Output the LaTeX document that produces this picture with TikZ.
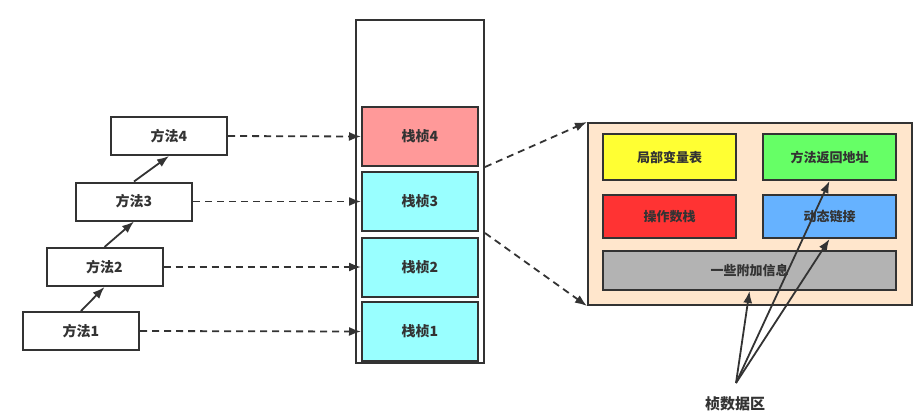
\documentclass[tikz,border=0pt]{standalone}
\usepackage{fontspec}
\newfontfamily\cjk{Noto Sans CJK SC}
\usetikzlibrary{arrows.meta,calc}
\definecolor{ink}{HTML}{333333}
\definecolor{framered}{HTML}{FF9999}
\definecolor{framecyan}{HTML}{99FFFF}
\definecolor{panelbg}{HTML}{FFE6CC}
\definecolor{lvyellow}{HTML}{FFFF33}
\definecolor{ragreen}{HTML}{66FF66}
\definecolor{osred}{HTML}{FF3333}
\definecolor{dlblue}{HTML}{66B2FF}
\definecolor{exgray}{HTML}{B3B3B3}
\tikzset{
  box/.style={draw=ink,line width=2pt,text=ink,font=\cjk\bfseries\fontsize{14}{14}\selectfont,inner sep=0pt},
  method/.style={box,fill=white,minimum width=116pt,minimum height=38pt},
  frame/.style={box,minimum width=116pt,minimum height=59pt},
  part/.style={box,font=\cjk\bfseries\fontsize{13}{13}\selectfont,minimum height=45pt},
  call/.style={draw=ink,line width=1.8pt,-{Latex[length=12pt,width=9pt]}},
  link/.style={call,dash pattern=on 7pt off 5pt}
}
\begin{document}
\begin{tikzpicture}[x=1pt,y=-1pt]
  \useasboundingbox (0,0) rectangle (923,416);
  % stack
  \node[box,minimum width=128pt,minimum height=343pt] (stack) at (420,191.5) {};
  \node[frame,fill=framered]  (f4) at (420,136.5) {栈桢4};
  \node[frame,fill=framecyan] (f3) at (420,201.5) {栈桢3};
  \node[frame,fill=framecyan] (f2) at (420,267)   {栈桢2};
  \node[frame,fill=framecyan] (f1) at (420,331.5) {栈桢1};
  % methods
  \node[method] (m4) at (169,136)   {方法4};
  \node[method] (m3) at (134,201.5) {方法3};
  \node[method] (m2) at (104.5,267) {方法2};
  \node[method] (m1) at (81,331)    {方法1};
  \draw[call] (m1.north) -- (m2.south);
  \draw[call] (m2.north) -- (m3.south);
  \draw[call] (m3.north) -- (m4.south);
  \foreach \i in {1,...,4} {
    \draw[link] (m\i.east) -- (f\i.west);
  }
  % frame detail
  \node[box,fill=panelbg,minimum width=324pt,minimum height=182pt] (panel) at (750,214) {};
  \node[part,fill=lvyellow,minimum width=133pt,minimum height=46pt] (lv) at (669.5,157) {局部变量表};
  \node[part,fill=ragreen,minimum width=133pt,minimum height=46pt]  (ra) at (829.5,157) {方法返回地址};
  \node[part,fill=osred,minimum width=133pt,minimum height=43pt]    (os) at (669.5,216.5) {操作数栈};
  \node[part,fill=dlblue,minimum width=133pt,minimum height=43pt]   (dl) at (829.5,216.5) {动态链接};
  \node[part,fill=exgray,minimum width=293pt,minimum height=39pt]   (ex) at (749.5,270.5) {一些附加信息};
  \coordinate (s4) at (stack.east |- 0,167);
  \coordinate (s3) at (stack.east |- 0,233);
  \draw[link] (s4) -- (panel.north west);
  \draw[link] (s3) -- (panel.south west);
  % label
  \node[text=ink,font=\cjk\bfseries\fontsize{15}{15}\selectfont,inner sep=0pt] (lbl) at (735,404) {桢数据区};
  \coordinate (src) at (736,383);
  \draw[call] (src) -- (ex.south);
  \draw[call] (src) -- (ra.south);
  \draw[call] (src) -- (dl.south);
\end{tikzpicture}
\end{document}
